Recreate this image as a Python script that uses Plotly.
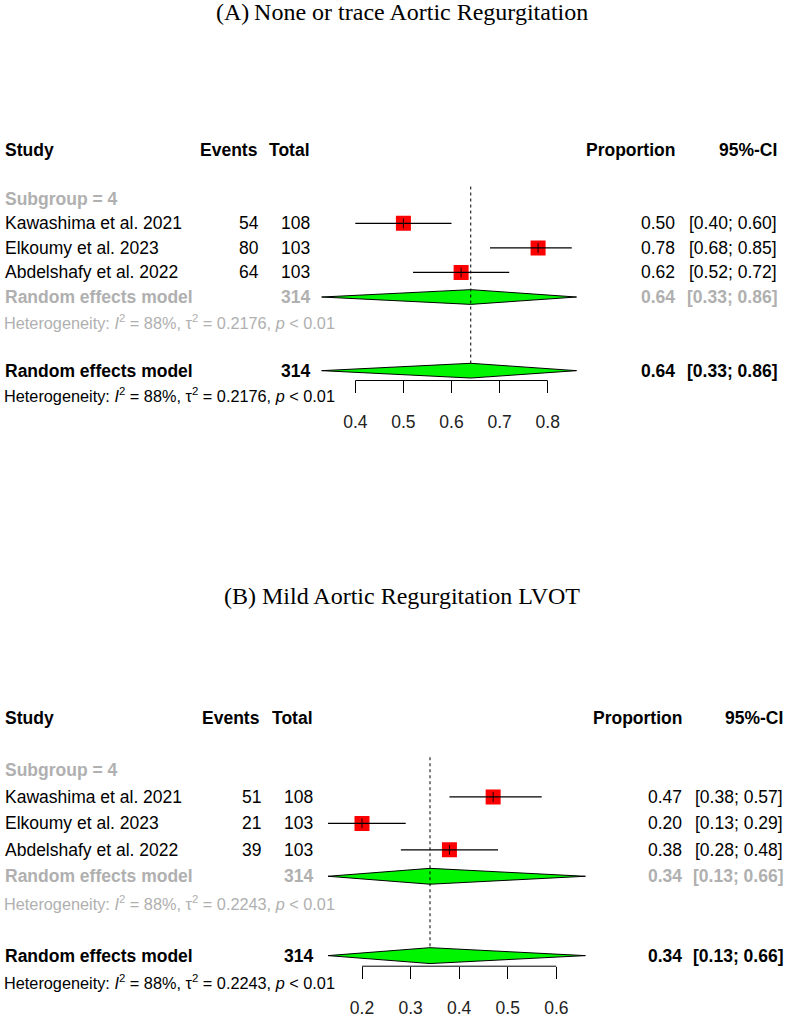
import plotly.graph_objects as go

W, H = 787, 1018

# ---------------- data ----------------
title_a = "(A)\u2009None or trace Aortic Regurgitation"
title_b = "(B) Mild Aortic Regurgitation LVOT"

studies = ["Kawashima et al. 2021", "Elkoumy et al. 2023", "Abdelshafy et al. 2022"]

events_a = [54, 80, 64]
totals_a = [108, 103, 103]
prop_a = [0.50, 0.78, 0.62]
lower_a = [0.40, 0.68, 0.52]
upper_a = [0.60, 0.85, 0.72]
pooled_a = 0.64
pooled_lower_a = 0.33
pooled_upper_a = 0.86
tau2_a = "0.2176"
i2_a = 88
ticks_a = [0.4, 0.5, 0.6, 0.7, 0.8]

events_b = [51, 21, 39]
totals_b = [108, 103, 103]
prop_b = [0.47, 0.20, 0.38]
lower_b = [0.38, 0.13, 0.28]
upper_b = [0.57, 0.29, 0.48]
pooled_b = 0.34
pooled_lower_b = 0.13
pooled_upper_b = 0.66
tau2_b = "0.2243"
i2_b = 88
ticks_b = [0.2, 0.3, 0.4, 0.5, 0.6]

subgroup_label = "Subgroup = 4"
model_label = "Random effects model"

# ---------------- styling / layout ----------------
SANS = "Liberation Sans, Arial, sans-serif"
SERIF = "Liberation Serif, Times New Roman, serif"
GRAY = "#B0B0B0"
FS = 17.5
FS_HET = 16.3

panels = [
    dict(n=2, title=title_a, title_py=12, top=150, rowh=24.6,
         tick0px=355.3, pxper=481.0, xr=(0.28, 0.92),
         ev=events_a, tot=totals_a, p=prop_a, lo=lower_a, up=upper_a,
         pm=pooled_a, pl=pooled_lower_a, pu=pooled_upper_a, tau2=tau2_a, i2=i2_a,
         ticks=ticks_a,
         c_ev=261, c_tot=312, c_prop=677, c_ci=779),
    dict(n=3, title=title_b, title_py=597, top=719, rowh=26.5,
         tick0px=362.0, pxper=485.75, xr=(0.08, 0.72),
         ev=events_b, tot=totals_b, p=prop_b, lo=lower_b, up=upper_b,
         pm=pooled_b, pl=pooled_lower_b, pu=pooled_upper_b, tau2=tau2_b, i2=i2_b,
         ticks=ticks_b,
         c_ev=263, c_tot=315, c_prop=684, c_ci=785),
]

AXIS_ROW = 9.4
DIA_H = 0.3

fig = go.Figure()
annotations = []
layout_axes = {}


def fmt(v):
    return f"{v:.2f}"


def ci_txt(l, u):
    return f"[{l:.2f}; {u:.2f}]"


def het_txt(i2, tau2):
    return (f"Heterogeneity: <i>I</i><sup>2</sup> = {i2}%, \u03c4<sup>2</sup> = {tau2}, "
            f"<i>p</i> &lt; 0.01")


for P in panels:
    n = P["n"]
    xa, ya = f"x{n}", f"y{n}"
    top, rowh = P["top"], P["rowh"]
    t0 = P["ticks"][0]
    px_l = P["tick0px"] + (P["xr"][0] - t0) * P["pxper"]
    px_r = P["tick0px"] + (P["xr"][1] - t0) * P["pxper"]
    axis_px = top + AXIS_ROW * rowh

    layout_axes[f"xaxis{n}"] = dict(
        domain=[px_l / W, px_r / W], range=list(P["xr"]), anchor="free",
        position=1 - axis_px / H, showgrid=False, zeroline=False, showline=False,
        ticks="outside", ticklen=12, tickwidth=1, tickcolor="#000",
        tickvals=P["ticks"], ticktext=[f"{t:.1f}" for t in P["ticks"]],
        tickfont=dict(family=SANS, size=FS, color="#222"), ticklabelstandoff=14,
        fixedrange=True,
    )
    layout_axes[f"yaxis{n}"] = dict(
        domain=[0, 1], range=[(H - top) / rowh, -top / rowh], visible=False,
        fixedrange=True, anchor=xa,
    )

    # axis line spanning the tick range
    fig.add_trace(go.Scatter(x=[P["ticks"][0], P["ticks"][-1]], y=[AXIS_ROW, AXIS_ROW],
                             mode="lines", line=dict(color="#000", width=1),
                             xaxis=xa, yaxis=ya, hoverinfo="skip"))

    rows = [3, 4, 5]
    # squares
    fig.add_trace(go.Scatter(x=P["p"], y=rows, mode="markers",
                             marker=dict(symbol="square", size=15, color="#FF0000",
                                         line=dict(width=0)),
                             xaxis=xa, yaxis=ya, hoverinfo="skip"))
    # CI lines
    for r, l, u in zip(rows, P["lo"], P["up"]):
        fig.add_trace(go.Scatter(x=[l, u], y=[r, r], mode="lines",
                                 line=dict(color="#000", width=1.2),
                                 xaxis=xa, yaxis=ya, hoverinfo="skip"))
    fig.add_trace(go.Scatter(x=P["p"], y=rows, mode="markers",
                             marker=dict(symbol="line-ns", size=7,
                                         line=dict(color="#000", width=0.9)),
                             xaxis=xa, yaxis=ya, hoverinfo="skip"))

    # diamonds (subgroup and overall)
    for r in (6, 9):
        fig.add_trace(go.Scatter(
            x=[P["pl"], P["pm"], P["pu"], P["pm"], P["pl"]],
            y=[r, r - DIA_H, r, r + DIA_H, r],
            mode="lines", fill="toself", fillcolor="#00F500",
            line=dict(color="#000", width=1), xaxis=xa, yaxis=ya, hoverinfo="skip"))

    # dotted reference line at pooled estimate
    fig.add_trace(go.Scatter(x=[P["pm"], P["pm"]], y=[1.5, 9 - DIA_H], mode="lines",
                             line=dict(color="#000", width=1, dash="dot"),
                             xaxis=xa, yaxis=ya, hoverinfo="skip"))

    def txt(px, row, text, anchor="left", bold=False, color="#000", size=FS):
        if bold:
            text = f"<b>{text}</b>"
        annotations.append(dict(x=px / W, xref="paper", y=row, yref=ya, text=text,
                                showarrow=False, xanchor=anchor, yanchor="middle",
                                font=dict(family=SANS, size=size, color=color)))

    # title
    annotations.append(dict(x=402 / W, xref="paper", y=1 - P["title_py"] / H, yref="paper",
                            text=P["title"], showarrow=False, xanchor="center",
                            yanchor="middle", font=dict(family=SERIF, size=24, color="#000")))

    # header
    txt(3, 0, "Study", bold=True)
    txt(P["c_ev"] - 1, 0, "Events", "right", bold=True)
    txt(P["c_tot"], 0, "Total", "right", bold=True)
    txt(P["c_prop"], 0, "Proportion", "right", bold=True)
    txt(P["c_ci"], 0, "95%-CI", "right", bold=True)

    txt(3, 2, subgroup_label, bold=True, color=GRAY)
    for r, s, e, t, p, l, u in zip(rows, studies, P["ev"], P["tot"], P["p"], P["lo"], P["up"]):
        txt(3, r, s)
        txt(P["c_ev"], r, str(e), "right")
        txt(P["c_tot"], r, str(t), "right")
        txt(P["c_prop"], r, fmt(p), "right")
        txt(P["c_ci"], r, ci_txt(l, u), "right")

    tot_sum = sum(P["tot"])
    for r, col in ((6, GRAY), (9, "#000")):
        txt(3, r, model_label, bold=True, color=col)
        txt(P["c_tot"], r, str(tot_sum), "right", bold=True, color=col)
        txt(P["c_prop"], r, fmt(P["pm"]), "right", bold=True, color=col)
        txt(P["c_ci"], r, ci_txt(P["pl"], P["pu"]), "right", bold=True, color=col)
    txt(2, 7, het_txt(P["i2"], P["tau2"]), color=GRAY, size=FS_HET)
    txt(2, 10, het_txt(P["i2"], P["tau2"]), size=FS_HET)

fig.update_layout(
    width=W, height=H, margin=dict(l=0, r=0, t=0, b=0),
    paper_bgcolor="#FFFFFF", plot_bgcolor="rgba(0,0,0,0)",
    showlegend=False, annotations=annotations,
    xaxis=dict(visible=False), yaxis=dict(visible=False),
    **layout_axes,
)

fig.write_html("out.html")
